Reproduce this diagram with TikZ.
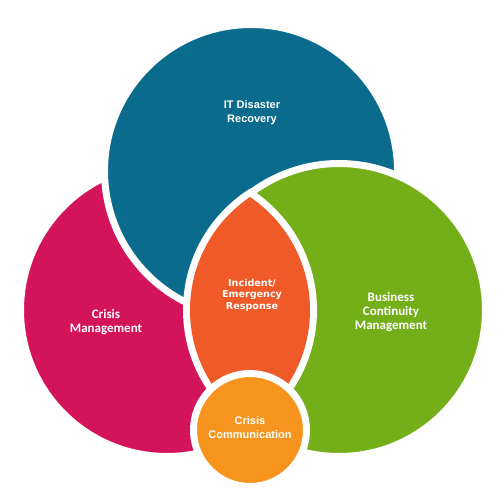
\documentclass[tikz,border=0pt]{standalone}
\usepackage{fontspec}
\usepackage{tikz}
\usetikzlibrary{positioning}
\newfontfamily\calfont{Carlito}
\newfontfamily\arfont{Liberation Sans}
\newfontfamily\verfont{DejaVu Sans}
\definecolor{drBlue}{RGB}{10,107,140}
\definecolor{cmMagenta}{RGB}{212,20,90}
\definecolor{bcmGreen}{RGB}{116,175,26}
\definecolor{ierOrange}{RGB}{240,90,40}
\definecolor{ccOrange}{RGB}{247,148,30}

\begin{document}
\begin{tikzpicture}[
    x=1pt, y=-1pt,
    bubble/.style={circle, draw=white, line width=7pt, inner sep=0pt,
                   minimum size=#1},
    capA/.style={text=white, align=center,
                 font=\arfont\bfseries\fontsize{11}{14}\selectfont},
    capB/.style={text=white, align=center,
                 font=\calfont\bfseries\fontsize{13}{14}\selectfont},
    capC/.style={text=white, align=center,
                 font=\verfont\bfseries\fontsize{9.6}{11.5}\selectfont}
]
\useasboundingbox[fill=white] (0,0) rectangle (500,500);

% the three big circles, back to front
\node[bubble=293pt, fill=cmMagenta] (cm)  at (167,310) {};
\node[bubble=293pt, fill=drBlue]    (itd) at (251,171) {};
\node[bubble=293pt, fill=bcmGreen]  (bcm) at (339,310) {};

% lens in the middle: white rim first, then the fill
\coordinate (lensL) at (173.6,310);
\coordinate (lensR) at (326.4,310);
\begin{scope}
  \clip (lensL) circle (143.4);
  \fill[white] (lensR) circle (143.4);
\end{scope}
\begin{scope}
  \clip (lensL) circle (136.4);
  \fill[ierOrange] (lensR) circle (136.4);
\end{scope}

% small circle at the bottom
\node[bubble=113pt, fill=ccOrange] (cc) at (250,430) {};

% labels
\node[capA] (itd-text) at (252,113) {IT Disaster\\Recovery};
\node[capB] (cm-text)  at (106,322) {Crisis\\Management};
\node[capB] (bcm-text) at (391,312) {Business\\Continuity\\Management};
\node[capC] (ier-text) at (252,295) {Incident/\\Emergency\\Response};
\node[capA] (cc-text)  at (250,428) {Crisis\\Communication};

\end{tikzpicture}
\end{document}
